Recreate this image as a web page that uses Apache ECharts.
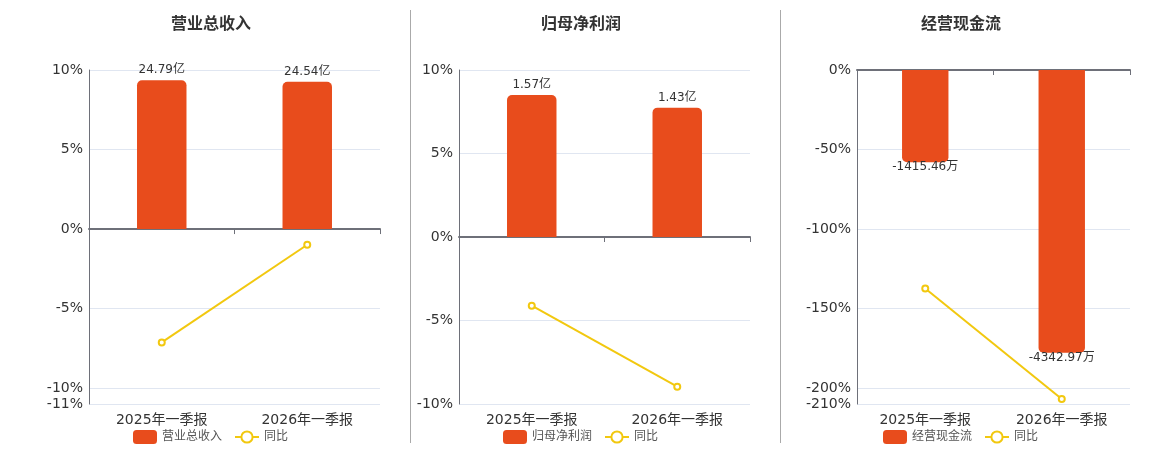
<!DOCTYPE html>
<html>
<head>
<meta charset="utf-8">
<script src="https://cdn.jsdelivr.net/npm/echarts@6/dist/echarts.min.js"></script>
<style>
    html, body { margin: 0; padding: 0; background: #fff; }
    #main { width: 1160px; height: 450px; }
</style>
</head>
<body>
<div id="main"></div>
<script>
var categories = ['2025年一季报', '2026年一季报'];

var revenue = [24.79, 24.54];        // 亿
var revenueYoy = [-7.13, -0.99];     // %
var profit = [1.57, 1.43];           // 亿
var profitYoy = [-4.11, -8.96];      // %
var cashflow = [-1415.46, -4342.97]; // 万
var cashflowYoy = [-137.4, -206.9];  // %

var barColor = '#E84C1C';
var lineColor = '#F2C80F';

// one entry per panel: layout + axis ranges
var panels = [
    {title: '营业总收入', bar: revenue, yoy: revenueYoy, unit: '亿', center: 206, legendLeft: 128,
        grid: {left: 89, width: 291}, pct: [-11, 10], barRange: [-29.15, 26.5], labelPos: 'top'},
    {title: '归母净利润', bar: profit, yoy: profitYoy, unit: '亿', center: 576, legendLeft: 498,
        grid: {left: 459, width: 291}, pct: [-10, 10], barRange: [-1.846, 1.846], labelPos: 'top'},
    {title: '经营现金流', bar: cashflow, yoy: cashflowYoy, unit: '万', center: 956, legendLeft: 878,
        grid: {left: 857, width: 273}, pct: [-210, 0], barRange: [-5130, 0], labelPos: 'bottom'}
];

var option = {
    backgroundColor: '#fff',
    textStyle: {fontFamily: '"DejaVu Sans", "Noto Sans CJK SC", sans-serif'},
    title: [], legend: [], grid: [], xAxis: [], yAxis: [], series: [],
    graphic: [
        {type: 'line', shape: {x1: 410.5, y1: 10, x2: 410.5, y2: 443}, style: {stroke: '#aaa', lineWidth: 1}},
        {type: 'line', shape: {x1: 780.5, y1: 10, x2: 780.5, y2: 443}, style: {stroke: '#aaa', lineWidth: 1}}
    ]
};

panels.forEach(function (p, i) {
    option.title.push({
        text: p.title,
        left: p.center,
        textAlign: 'center',
        top: 12,
        textStyle: {fontSize: 16, fontWeight: 'bold', color: '#333'}
    });
    option.legend.push({
        data: [p.title, '同比'],
        left: p.legendLeft,
        top: 425,
        itemWidth: 24,
        itemHeight: 14,
        itemGap: 12,
        textStyle: {fontSize: 12, color: '#555'}
    });
    option.grid.push({left: p.grid.left, width: p.grid.width, top: 70, height: 334});

    // zero line axis (line + ticks) and bottom label axis
    option.xAxis.push({
        type: 'category', gridIndex: i, data: categories,
        axisLine: {onZero: true, onZeroAxisIndex: i * 2, lineStyle: {color: '#6E7079', width: 2}},
        axisTick: {show: true, lineStyle: {color: '#6E7079'}},
        axisLabel: {show: false}
    });
    option.xAxis.push({
        type: 'category', gridIndex: i, data: categories, position: 'bottom',
        axisLine: {show: false, onZero: false},
        axisTick: {show: false},
        axisLabel: {fontSize: 14, color: '#333', margin: 9}
    });

    option.yAxis.push({
        type: 'value', gridIndex: i, min: p.pct[0], max: p.pct[1],
        axisLine: {show: true, lineStyle: {color: '#6E7079'}},
        axisTick: {show: false},
        axisLabel: {fontSize: 14, color: '#333', margin: 6, formatter: '{value}%'},
        splitLine: {lineStyle: {color: '#E0E6F1'}}
    });
    option.yAxis.push({
        type: 'value', gridIndex: i, min: p.barRange[0], max: p.barRange[1], show: false,
        splitLine: {show: false}
    });

    option.series.push({
        name: p.title,
        type: 'bar',
        xAxisIndex: i * 2,
        yAxisIndex: i * 2 + 1,
        barWidth: '34%',
        data: p.bar,
        itemStyle: {color: barColor, borderRadius: p.labelPos === 'top' ? [5, 5, 0, 0] : [0, 0, 5, 5]},
        label: {
            show: true,
            position: p.labelPos,
            distance: p.labelPos === 'top' ? 4 : -1,
            fontSize: 12,
            color: '#333',
            formatter: '{c}' + p.unit
        }
    });
    option.series.push({
        name: '同比',
        type: 'line',
        xAxisIndex: i * 2,
        yAxisIndex: i * 2,
        data: p.yoy,
        symbol: 'emptyCircle',
        symbolSize: 6,
        lineStyle: {color: lineColor, width: 2},
        itemStyle: {color: lineColor}
    });
});

var chart = echarts.init(document.getElementById('main'));
chart.setOption(option);
</script>
</body>
</html>
